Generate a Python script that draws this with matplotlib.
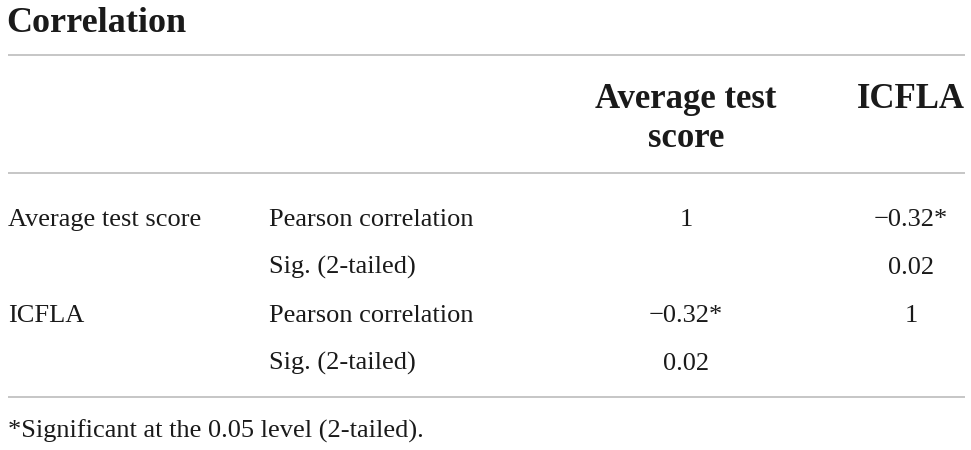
import matplotlib.pyplot as plt

# Table content
title = "Correlation"
col_headers = ["Average test\nscore", "ICFLA"]
row_groups = ["Average test score", "", "ICFLA", ""]
row_stats = ["Pearson correlation", "Sig. (2-tailed)", "Pearson correlation", "Sig. (2-tailed)"]
col_avg = ["1", "", "\u22120.32*", "0.02"]
col_icfla = ["\u22120.32*", "0.02", "1", ""]
footnote = "*Significant at the 0.05 level (2-tailed)."

W, H = 971, 450
fig = plt.figure(figsize=(W / 100, H / 100), dpi=100)
ax = fig.add_axes([0, 0, 1, 1])
ax.set_xlim(0, W)
ax.set_ylim(H, 0)
ax.axis('off')

serif = ['Liberation Serif', 'DejaVu Serif']
ink = '#1a1a1a'
rule = '#c6c6c6'

ax.text(6, 32, title, fontsize=26, fontweight='bold', family=serif, color=ink, va='baseline')

# horizontal rules
for y in (55, 173, 397):
    ax.plot([8, 965], [y, y], color=rule, lw=1.4, solid_capstyle='butt')

# column headers
x_avg, x_icfla = 686, 911
ax.text(x_avg, 108, col_headers[0].split("\n")[0], fontsize=25, fontweight='bold',
        family=serif, color=ink, ha='center', va='baseline')
ax.text(x_avg, 147, col_headers[0].split("\n")[1], fontsize=25, fontweight='bold',
        family=serif, color=ink, ha='center', va='baseline')
ax.text(x_icfla, 108, col_headers[1], fontsize=25, fontweight='bold',
        family=serif, color=ink, ha='center', va='baseline')

# body rows
baselines = [226, 274, 322, 370]
for i, yb in enumerate(baselines):
    ax.text(8, yb, row_groups[i], fontsize=19, family=serif, color=ink, va='baseline')
    ax.text(269, yb, row_stats[i], fontsize=19, family=serif, color=ink, va='baseline')
    ax.text(x_avg, yb, col_avg[i], fontsize=19, family=serif, color=ink, ha='center', va='baseline')
    ax.text(x_icfla, yb, col_icfla[i], fontsize=19, family=serif, color=ink, ha='center', va='baseline')

ax.text(8, 438, footnote, fontsize=19, family=serif, color=ink, va='baseline')

fig.savefig('out.png', dpi=100)
